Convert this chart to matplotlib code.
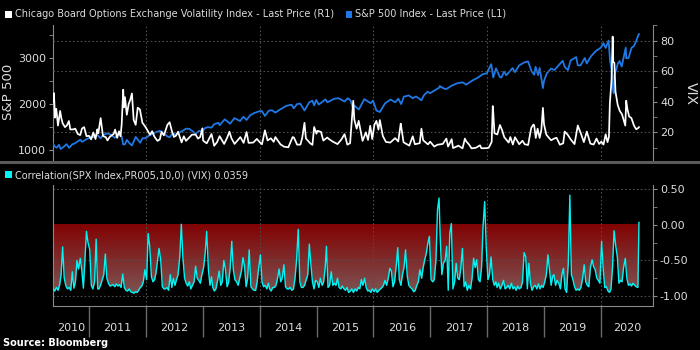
import matplotlib
matplotlib.use('Agg')
import matplotlib.pyplot as plt
import matplotlib.dates as mdates
import numpy as np
import pandas as pd
from matplotlib.lines import Line2D
from matplotlib.patches import Rectangle

# ---------------- data ----------------
spx_dates = [
    '2010-05-14', '2010-05-25', '2010-06-07', '2010-06-21', '2010-07-02', '2010-07-21', '2010-08-09', '2010-08-26',
    '2010-09-15', '2010-09-30', '2010-10-15', '2010-11-05', '2010-11-16', '2010-12-01', '2010-12-15', '2010-12-31',
    '2011-01-14', '2011-01-28', '2011-02-18', '2011-03-16', '2011-03-31', '2011-04-29', '2011-05-20', '2011-06-15',
    '2011-06-30', '2011-07-07', '2011-07-29', '2011-08-08', '2011-08-19', '2011-08-31', '2011-09-22', '2011-10-03',
    '2011-10-27', '2011-11-25', '2011-12-09', '2011-12-30',
    '2012-01-20', '2012-02-17', '2012-03-16', '2012-04-02', '2012-04-23', '2012-05-18', '2012-06-01', '2012-06-19',
    '2012-07-12', '2012-07-31', '2012-08-21', '2012-09-14', '2012-10-05', '2012-10-26', '2012-11-15', '2012-12-07',
    '2012-12-28',
    '2013-01-11', '2013-01-31', '2013-02-25', '2013-03-14', '2013-04-11', '2013-04-18', '2013-05-21', '2013-06-24',
    '2013-07-22', '2013-08-27', '2013-09-18', '2013-10-08', '2013-10-31', '2013-11-27', '2013-12-31',
    '2014-01-15', '2014-02-03', '2014-02-28', '2014-03-21', '2014-04-11', '2014-05-09', '2014-06-20', '2014-07-24',
    '2014-08-07', '2014-08-29', '2014-09-18', '2014-10-15', '2014-11-14', '2014-12-05', '2014-12-16', '2014-12-29',
    '2015-01-15', '2015-02-27', '2015-03-11', '2015-04-24', '2015-05-21', '2015-06-29', '2015-07-20', '2015-08-07',
    '2015-08-24', '2015-08-31', '2015-09-29', '2015-10-30', '2015-11-03', '2015-12-14', '2015-12-29',
    '2016-01-20', '2016-02-11', '2016-03-15', '2016-04-20', '2016-05-19', '2016-06-08', '2016-06-27', '2016-07-14',
    '2016-08-15', '2016-09-09', '2016-09-30', '2016-11-04', '2016-11-21', '2016-12-13', '2016-12-30',
    '2017-01-26', '2017-02-28', '2017-03-01', '2017-03-27', '2017-04-13', '2017-05-16', '2017-06-19', '2017-07-27',
    '2017-08-18', '2017-09-29', '2017-10-31', '2017-11-30', '2017-12-29',
    '2018-01-26', '2018-02-08', '2018-02-26', '2018-03-23', '2018-04-02', '2018-04-18', '2018-05-03', '2018-06-12',
    '2018-06-27', '2018-07-25', '2018-08-29', '2018-09-20', '2018-10-11', '2018-10-29', '2018-11-07', '2018-11-23',
    '2018-12-03', '2018-12-24', '2018-12-31',
    '2019-01-18', '2019-02-15', '2019-03-08', '2019-04-30', '2019-05-13', '2019-06-03', '2019-06-20', '2019-07-26',
    '2019-08-05', '2019-08-23', '2019-09-19', '2019-10-02', '2019-10-28', '2019-11-27', '2019-12-31',
    '2020-01-17', '2020-01-31', '2020-02-19', '2020-02-28', '2020-03-09', '2020-03-12', '2020-03-16', '2020-03-23',
    '2020-03-26', '2020-04-08', '2020-04-17', '2020-04-29', '2020-05-13', '2020-06-08', '2020-06-11', '2020-06-26',
    '2020-07-15', '2020-07-31', '2020-08-14', '2020-08-28', '2020-09-01',
]
spx_values = [
    1136, 1074, 1050, 1113, 1022, 1069, 1127, 1047,
    1125, 1141, 1176, 1225, 1178, 1206, 1236, 1258,
    1293, 1276, 1343, 1256, 1326, 1364, 1333, 1266,
    1321, 1353, 1292, 1119, 1124, 1219, 1130, 1099,
    1285, 1159, 1255, 1258,
    1315, 1361, 1404, 1419, 1367, 1295, 1278, 1357,
    1335, 1379, 1413, 1465, 1461, 1411, 1353, 1418,
    1402,
    1472, 1498, 1488, 1563, 1593, 1541, 1669, 1573,
    1696, 1631, 1725, 1655, 1757, 1807, 1848,
    1848, 1742, 1859, 1866, 1815, 1878, 1963, 1988,
    1910, 2003, 2011, 1862, 2039, 2075, 1972, 2090,
    1992, 2104, 2040, 2117, 2130, 2057, 2129, 2078,
    1893, 1972, 1884, 2079, 2109, 2021, 2078,
    1859, 1829, 2016, 2102, 2040, 2119, 2001, 2163,
    2190, 2128, 2168, 2085, 2198, 2271, 2239,
    2297, 2364, 2396, 2342, 2329, 2400, 2453, 2475,
    2425, 2519, 2575, 2648, 2674,
    2873, 2581, 2780, 2588, 2582, 2709, 2630, 2787,
    2699, 2846, 2914, 2931, 2728, 2641, 2814, 2633,
    2790, 2351, 2507,
    2671, 2776, 2743, 2946, 2812, 2744, 2954, 3026,
    2845, 2847, 3006, 2888, 3040, 3154, 3231,
    3330, 3226, 3386, 2954, 2747, 2481, 2386, 2237,
    2631, 2750, 2875, 2940, 2820, 3232, 3002, 3009,
    3227, 3271, 3373, 3508, 3527,
]

vix_dates = [
    '2010-05-14', '2010-05-20', '2010-05-27', '2010-06-04', '2010-06-15', '2010-06-29', '2010-07-06', '2010-07-15',
    '2010-07-30', '2010-08-11', '2010-08-24', '2010-09-02', '2010-09-20', '2010-10-04', '2010-10-20', '2010-11-05',
    '2010-11-16', '2010-11-30', '2010-12-15', '2010-12-31',
    '2011-01-14', '2011-01-28', '2011-02-11', '2011-02-23', '2011-03-01', '2011-03-16', '2011-03-31', '2011-04-18',
    '2011-04-29', '2011-05-13', '2011-05-25', '2011-06-08', '2011-06-17', '2011-06-30', '2011-07-12', '2011-07-22',
    '2011-07-29', '2011-08-08', '2011-08-12', '2011-08-19', '2011-08-31', '2011-09-12', '2011-09-22', '2011-10-03',
    '2011-10-14', '2011-10-27', '2011-11-09', '2011-11-23', '2011-12-09', '2011-12-30',
    '2012-01-13', '2012-01-27', '2012-02-10', '2012-02-24', '2012-03-15', '2012-03-30', '2012-04-10', '2012-04-25',
    '2012-05-18', '2012-06-01', '2012-06-15', '2012-06-29', '2012-07-12', '2012-07-25', '2012-08-17', '2012-08-31',
    '2012-09-14', '2012-09-28', '2012-10-23', '2012-11-15', '2012-11-30', '2012-12-14', '2012-12-28',
    '2013-01-02', '2013-01-25', '2013-02-25', '2013-03-14', '2013-04-01', '2013-04-18', '2013-05-17', '2013-06-05',
    '2013-06-20', '2013-07-03', '2013-07-23', '2013-08-29', '2013-09-19', '2013-10-08', '2013-10-21', '2013-11-20',
    '2013-12-13', '2013-12-31',
    '2014-01-15', '2014-02-03', '2014-02-20', '2014-03-13', '2014-03-31', '2014-04-11', '2014-05-14', '2014-06-06',
    '2014-07-03', '2014-07-31', '2014-08-08', '2014-08-29', '2014-09-19', '2014-09-30', '2014-10-15', '2014-10-24',
    '2014-11-21', '2014-12-05', '2014-12-16', '2014-12-31',
    '2015-01-06', '2015-01-29', '2015-02-13', '2015-03-10', '2015-03-25', '2015-04-17', '2015-05-15', '2015-06-08',
    '2015-06-29', '2015-07-07', '2015-07-17', '2015-08-04', '2015-08-24', '2015-08-31', '2015-09-15', '2015-09-28',
    '2015-10-23', '2015-11-13', '2015-11-27', '2015-12-11', '2015-12-24',
    '2016-01-07', '2016-01-20', '2016-02-02', '2016-02-11', '2016-03-01', '2016-03-21', '2016-04-18', '2016-05-19',
    '2016-06-08', '2016-06-24', '2016-06-27', '2016-07-12', '2016-08-18', '2016-09-09', '2016-09-23', '2016-10-24',
    '2016-11-04', '2016-11-15', '2016-12-16', '2016-12-30',
    '2017-01-25', '2017-02-15', '2017-03-21', '2017-04-13', '2017-04-24', '2017-05-17', '2017-05-26', '2017-06-20',
    '2017-06-29', '2017-07-26', '2017-08-10', '2017-08-18', '2017-09-05', '2017-09-22', '2017-10-20', '2017-11-15',
    '2017-11-24', '2017-12-20',
    '2018-01-10', '2018-01-29', '2018-02-05', '2018-02-08', '2018-02-16', '2018-03-06', '2018-03-23', '2018-04-06',
    '2018-04-20', '2018-05-18', '2018-05-29', '2018-06-14', '2018-06-28', '2018-07-25', '2018-08-15', '2018-08-29',
    '2018-09-20', '2018-10-10', '2018-10-24', '2018-10-29', '2018-11-08', '2018-11-20', '2018-12-03', '2018-12-14',
    '2018-12-24', '2018-12-31',
    '2019-01-15', '2019-01-31', '2019-02-15', '2019-03-08', '2019-03-22', '2019-04-12', '2019-05-03', '2019-05-13',
    '2019-05-31', '2019-06-21', '2019-07-15', '2019-08-05', '2019-08-14', '2019-08-23', '2019-09-13', '2019-10-02',
    '2019-10-25', '2019-11-15', '2019-12-03', '2019-12-20',
    '2020-01-03', '2020-01-17', '2020-01-31', '2020-02-12', '2020-02-21', '2020-02-27', '2020-03-09', '2020-03-16',
    '2020-03-20', '2020-03-27', '2020-04-03', '2020-04-17', '2020-04-30', '2020-05-15', '2020-06-05', '2020-06-11',
    '2020-06-19', '2020-06-30', '2020-07-14', '2020-07-31', '2020-08-14', '2020-08-28', '2020-09-01',
]
vix_values = [
    40.0, 45.8, 29.7, 35.5, 24.5, 34.1, 29.6, 26.0,
    23.5, 24.6, 27.5, 22.0, 22.0, 22.5, 19.0, 18.3,
    22.6, 23.5, 17.6, 17.8,
    15.5, 20.0, 15.7, 22.1, 19.5, 29.4, 17.7, 16.9,
    14.8, 17.1, 18.0, 19.1, 21.9, 16.5, 20.8, 17.5,
    25.3, 48.0, 36.4, 43.1, 31.6, 38.6, 41.3, 45.5,
    28.2, 25.0, 36.2, 35.1, 26.4, 23.4,
    20.9, 18.5, 20.8, 17.3, 14.5, 15.5, 20.4, 18.1,
    25.1, 26.7, 21.1, 17.1, 17.9, 20.5, 13.5, 17.5,
    14.5, 16.0, 18.6, 18.6, 16.0, 17.0, 22.7,
    14.7, 12.9, 19.0, 11.3, 13.6, 17.6, 12.5, 16.5,
    20.5, 16.2, 12.5, 17.0, 13.2, 20.3, 13.2, 13.4,
    15.8, 13.7,
    12.3, 21.4, 14.8, 16.2, 13.9, 17.0, 12.2, 10.7,
    10.3, 17.0, 16.7, 12.0, 12.1, 16.3, 26.3, 16.1,
    12.9, 11.9, 23.6, 19.2,
    21.1, 20.4, 14.7, 16.7, 15.4, 13.9, 12.4, 15.3,
    18.9, 16.1, 12.0, 13.0, 40.7, 28.4, 22.5, 27.6,
    14.5, 20.1, 15.1, 24.4, 15.7,
    25.0, 27.6, 21.9, 28.1, 17.7, 13.8, 13.4, 16.3,
    14.1, 25.8, 23.9, 13.6, 11.4, 17.5, 12.3, 13.0,
    22.5, 14.9, 12.2, 14.0,
    10.8, 12.0, 12.5, 16.0, 10.8, 15.6, 9.8, 10.9,
    11.4, 9.6, 16.0, 14.3, 12.2, 9.6, 10.0, 11.6,
    9.7, 9.7,
    10.0, 13.8, 37.3, 33.5, 19.5, 18.7, 24.9, 21.5,
    16.9, 13.4, 17.0, 12.1, 16.9, 12.3, 14.6, 12.3,
    11.8, 23.0, 25.2, 24.7, 16.4, 22.5, 16.4, 21.6,
    36.1, 25.4,
    18.6, 16.6, 14.9, 16.1, 16.5, 12.0, 12.9, 20.6,
    18.7, 15.4, 12.4, 24.6, 22.1, 19.9, 13.7, 20.6,
    12.7, 12.1, 16.0, 12.5,
    14.0, 12.1, 18.8, 13.7, 17.1, 39.2, 54.5, 82.7,
    66.0, 65.5, 46.8, 38.2, 34.2, 31.9, 24.5, 40.8,
    35.1, 30.4, 29.5, 24.5, 22.1, 23.0, 23.5,
]

# 10-day correlation, three readings per month (5th, 15th, 25th), series starts 15 May 2010
corr_2010 = [-0.90, -0.93, -0.88, -0.92, -0.85, -0.70, -0.31, -0.75, -0.86, -0.90, -0.88, -0.92,
             -0.66, -0.89, -0.80, -0.50, -0.62, -0.47, -0.64, -0.89, -0.50, -0.09, -0.25]
corr_2011 = [-0.35, -0.85, -0.90, -0.80, -0.20, -0.90, -0.90, -0.85, -0.78, -0.70, -0.41, -0.75,
             -0.82, -0.86, -0.85, -0.84, -0.87, -0.83, -0.86, -0.84, -0.88, -0.69, -0.88, -0.92,
             -0.93, -0.90, -0.94, -0.95, -0.96, -0.94, -0.95, -0.92, -0.88, -0.86, -0.80, -0.63]
corr_2012 = [-0.77, -0.12, -0.30, -0.73, -0.80, -0.77, -0.68, -0.50, -0.33, -0.50, -0.87, -0.90,
             -0.90, -0.88, -0.92, -0.70, -0.88, -0.75, -0.85, -0.77, -0.70, -0.45, 0.01, -0.45,
             -0.75, -0.82, -0.86, -0.80, -0.90, -0.85, -0.80, -0.58, -0.75, -0.78, -0.82, -0.70]
corr_2013 = [-0.60, -0.40, -0.09, -0.63, -0.85, -0.73, -0.88, -0.93, -0.90, -0.78, -0.65, -0.85,
             -0.80, -0.50, -0.62, -0.87, -0.80, -0.60, -0.23, -0.63, -0.77, -0.80, -0.85, -0.75,
             -0.65, -0.46, -0.58, -0.87, -0.75, -0.35, -0.87, -0.90, -0.92, -0.92, -0.80, -0.60]
corr_2014 = [-0.42, -0.80, -0.87, -0.85, -0.90, -0.82, -0.90, -0.93, -0.88, -0.88, -0.85, -0.75,
             -0.62, -0.80, -0.75, -0.56, -0.87, -0.90, -0.90, -0.88, -0.92, -0.90, -0.75, -0.50,
             -0.06, -0.80, -0.88, -0.88, -0.85, -0.78, -0.70, -0.27, -0.55, -0.80, -0.90, -0.78]
corr_2015 = [-0.80, -0.88, -0.75, -0.85, -0.80, -0.60, -0.30, -0.88, -0.85, -0.66, -0.85, -0.82,
             -0.85, -0.75, -0.88, -0.90, -0.86, -0.90, -0.92, -0.88, -0.95, -0.93, -0.90, -0.95,
             -0.90, -0.93, -0.88, -0.90, -0.77, -0.85, -0.75, -0.88, -0.93, -0.92, -0.95, -0.90]
corr_2016 = [-0.94, -0.90, -0.95, -0.92, -0.90, -0.88, -0.85, -0.78, -0.85, -0.75, -0.61, -0.65,
             -0.87, -0.80, -0.60, -0.32, -0.77, -0.85, -0.70, -0.60, -0.35, -0.72, -0.85, -0.88,
             -0.90, -0.94, -0.92, -0.85, -0.80, -0.63, -0.75, -0.60, -0.49, -0.40, -0.26, -0.16]
corr_2017 = [-0.77, -0.80, -0.77, -0.50, 0.21, 0.38, -0.21, -0.70, -0.54, -0.50, -0.30, -0.92,
             -0.12, 0.02, -0.90, -0.80, -0.54, -0.75, -0.77, -0.60, -0.33, -0.87, -0.80, -0.92,
             -0.85, -0.90, -0.75, -0.47, -0.60, -0.49, -0.77, -0.80, -0.60, 0.00, 0.33, -0.31]
corr_2018 = [-0.77, -0.70, -0.45, -0.77, -0.85, -0.80, -0.88, -0.82, -0.90, -0.85, -0.78, -0.90,
             -0.88, -0.85, -0.90, -0.82, -0.90, -0.87, -0.92, -0.86, -0.90, -0.88, -0.80, -0.39,
             -0.45, -0.90, -0.54, -0.82, -0.92, -0.87, -0.85, -0.90, -0.83, -0.90, -0.85, -0.88]
corr_2019 = [-0.80, -0.70, -0.42, -0.65, -0.85, -0.72, -0.70, -0.85, -0.78, -0.82, -0.90, -0.70,
             -0.61, -0.90, -0.95, -0.54, 0.42, -0.70, -0.77, -0.87, -0.92, -0.90, -0.92, -0.88,
             -0.75, -0.56, -0.80, -0.85, -0.87, -0.60, -0.49, -0.59, -0.63, -0.75, -0.78, -0.82]
corr_2020 = [-0.23, -0.61, -0.88, -0.87, -0.93, -0.95, -0.90, -0.60, -0.08, -0.30, -0.45, -0.82,
             -0.78, -0.80, -0.60, -0.47, -0.75, -0.85, -0.83, -0.86, -0.82, -0.85, -0.87, -0.88,
             0.0359]
corr_last_date = '2020-09-01'

year_labels = ['2010', '2011', '2012', '2013', '2014', '2015', '2016', '2017', '2018', '2019', '2020']
spx_ticks = [1000, 2000, 3000]
vix_ticks = [20, 40, 60, 80]
corr_ticks = [0.5, 0.0, -0.5, -1.0]
corr_tick_labels = ['0.50', '0.00', '-0.50', '-1.00']

legend_vix = 'Chicago Board Options Exchange Volatility Index - Last Price (R1)'
legend_spx = 'S&P 500 Index - Last Price (L1)'
legend_corr = 'Correlation(SPX Index,PR005,10,0) (VIX) 0.0359'

# ---------------- build series ----------------
spx_x = pd.to_datetime(spx_dates)
vix_x = pd.to_datetime(vix_dates)

corr_vals = []
corr_x = []
days = [5, 15, 25]
for yr, vals in zip(range(2010, 2021), [corr_2010, corr_2011, corr_2012, corr_2013, corr_2014, corr_2015,
                                         corr_2016, corr_2017, corr_2018, corr_2019, corr_2020]):
    slots = []
    for m in range(1, 13):
        for d in days:
            if yr == 2010 and (m < 5 or (m == 5 and d < 15)):
                continue
            slots.append(pd.Timestamp(yr, m, d))
    n = len(vals)
    if yr == 2020:
        slots = slots[:n - 1] + [pd.Timestamp(corr_last_date)]
    corr_x.extend(slots[:n])
    corr_vals.extend(vals)
corr_x = pd.to_datetime(corr_x)
corr_vals = np.array(corr_vals)

# ---------------- figure ----------------
BG = 'black'
GRID = '#4d4d4d'
SPINE = '#8a8a8a'
TXT = '#dcdcdc'
plt.rcParams['font.family'] = ['DejaVu Sans']

fig = plt.figure(figsize=(7, 3.5), dpi=100, facecolor=BG)
L, W = 53 / 700, 600 / 700
ax = fig.add_axes([L, 190 / 350, W, 135 / 350], facecolor=BG)
axv = ax.twinx()
axb = fig.add_axes([L, 44 / 350, W, 121 / 350], facecolor=BG)

x_left = pd.Timestamp('2010-05-14')
x_right = pd.Timestamp('2020-11-30')

# top panel
ax.plot(spx_x, spx_values, color='#1f78e6', lw=1.3, zorder=3)
for y in [20, 60, 80]:
    axv.axhline(y, color=GRID, lw=0.8, ls=(0, (1.5, 2)), zorder=1)
axv.plot(vix_x, vix_values, color='white', lw=1.25, zorder=4)
for yr in [2012, 2014, 2016, 2018, 2020]:
    ax.axvline(pd.Timestamp(yr, 1, 1), color=GRID, lw=0.8, ls=(0, (1.5, 2)), zorder=1)
    axb.axvline(pd.Timestamp(yr, 1, 1), color=GRID, lw=0.8, ls=(0, (1.5, 2)), zorder=2.5)

ax.set_xlim(x_left, x_right)
ax.set_ylim(782, 3726)
axv.set_ylim(2.0, 90.3)
ax.set_yticks(spx_ticks)
ax.set_yticks([1500, 2500, 3500], minor=True)
axv.set_yticks(vix_ticks)
axv.set_yticks([10, 30, 50, 70, 90], minor=True)
ax.set_xticks([])
axv.set_xticks([])
for a in (ax, axv):
    for s in ['top', 'bottom']:
        a.spines[s].set_visible(False)
    a.spines['left'].set_color(SPINE)
    a.spines['right'].set_color(SPINE)
ax.spines['right'].set_visible(False)
axv.spines['left'].set_visible(False)
ax.tick_params(axis='y', which='both', colors=SPINE, labelcolor=TXT, labelsize=8, length=3, pad=2)
axv.tick_params(axis='y', which='both', colors=SPINE, labelcolor=TXT, labelsize=8, length=3, pad=2)

# bottom panel
x0n = mdates.date2num(corr_x[0])
x1n = mdates.date2num(corr_x[-1])
top_c = np.array([0.51, 0.01, 0.01])
bot_c = np.array([0.49, 0.34, 0.34])
t = np.linspace(0, 1, 256)[:, None]
grad = (top_c[None, :] * (1 - t) + bot_c[None, :] * t)[:, None, :]
axb.imshow(grad, extent=[x0n, x1n, -1.0, 0.0], aspect='auto', origin='upper', zorder=1,
           interpolation='bilinear')
axb.fill_between(corr_x, corr_vals, -1.2, color='black', lw=0, zorder=2)
for y in [0.5, -0.5, -1.0]:
    axb.axhline(y, color=GRID, lw=0.8, ls=(0, (1.5, 2)), zorder=2.5)
axb.plot(corr_x, corr_vals, color='#00f5f5', lw=1.0, zorder=3)

axb.set_xlim(x_left, x_right)
axb.set_ylim(-1.141, 0.563)
axb.yaxis.tick_right()
axb.set_yticks(corr_ticks)
axb.set_yticklabels(corr_tick_labels)
axb.set_yticks([0.25, -0.25, -0.75], minor=True)
axb.tick_params(axis='y', which='both', colors=SPINE, labelcolor=TXT, labelsize=8, length=3, pad=2)
axb.spines['top'].set_visible(False)
for s in ['left', 'right', 'bottom']:
    axb.spines[s].set_color(SPINE)

bounds = [pd.Timestamp(y, 1, 1) for y in range(2011, 2021)]
edges = [x_left] + bounds + [x_right]
mids = [edges[i] + (edges[i + 1] - edges[i]) / 2 for i in range(len(edges) - 1)]
axb.set_xticks(bounds)
axb.set_xticklabels([''] * len(bounds))
axb.set_xticks(mids, minor=True)
axb.set_xticklabels(year_labels, minor=True)
axb.tick_params(axis='x', which='major', direction='out', length=22, width=1, colors='#6a6a6a')
axb.tick_params(axis='x', which='minor', length=0, pad=12, labelsize=8, labelcolor=TXT)

# separator line
fig.add_artist(Line2D([0, 1], [188 / 350, 188 / 350], transform=fig.transFigure, color='#5a5a5a', lw=2.2))

# legends
def fy(py):
    return 1 - py / 350

fig.add_artist(Rectangle((5 / 700, fy(18)), 7 / 700, 7 / 350, transform=fig.transFigure, color='white', lw=0))
fig.text(15 / 700, fy(14), legend_vix, color=TXT, fontsize=7, va='center', ha='left')
fig.add_artist(Rectangle((346 / 700, fy(18)), 6 / 700, 7 / 350, transform=fig.transFigure, color='#1f78e6', lw=0))
fig.text(355 / 700, fy(14), legend_spx, color=TXT, fontsize=7, va='center', ha='left')
fig.add_artist(Rectangle((5 / 700, fy(178)), 7 / 700, 7 / 350, transform=fig.transFigure, color='#00f5f5', lw=0))
fig.text(15 / 700, fy(175), legend_corr, color=TXT, fontsize=7, va='center', ha='left')

fig.text(9 / 700, fy(92), 'S&P 500', color=TXT, fontsize=9.5, rotation=90, va='center', ha='center')
fig.text(691 / 700, fy(93), 'VIX', color=TXT, fontsize=10, rotation=-90, va='center', ha='center')
fig.text(3 / 700, fy(343), 'Source: Bloomberg', color='white', fontsize=7, fontweight='bold',
         va='center', ha='left')

fig.savefig('out.png', dpi=100, facecolor=BG)
